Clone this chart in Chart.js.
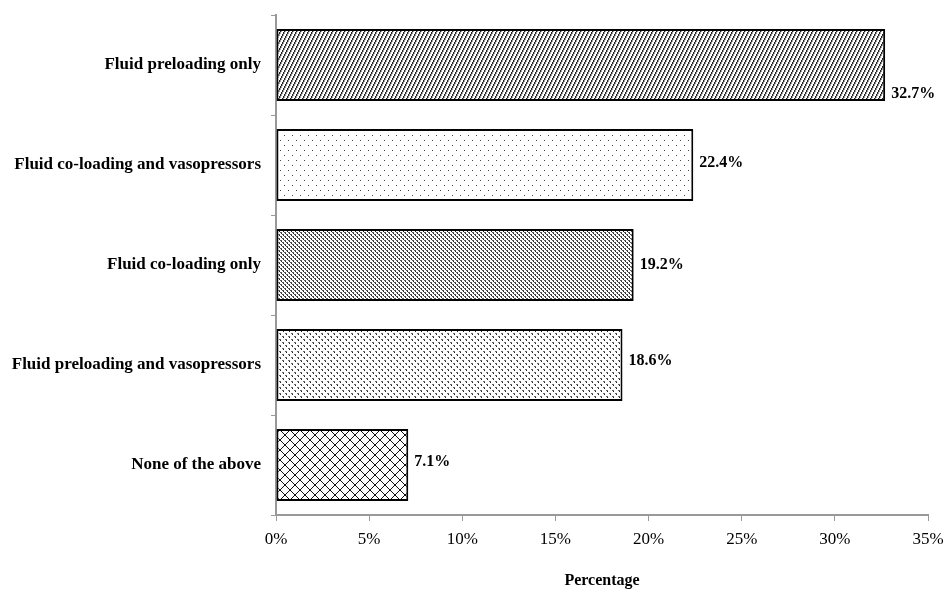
<!DOCTYPE html>
<html>
<head>
<meta charset="utf-8">
<script src="https://cdn.jsdelivr.net/npm/chart.js@4.4.0/dist/chart.umd.min.js"></script>
<style>
  html, body { margin: 0; padding: 0; background: #fff; }
  #wrap { width: 944px; height: 594px; }
</style>
</head>
<body>
<div id="wrap"><canvas id="chart" width="944" height="594"></canvas></div>
<script>
const categories = [
  'Fluid preloading only',
  'Fluid co-loading and vasopressors',
  'Fluid co-loading only',
  'Fluid preloading and vasopressors',
  'None of the above'
];
const percentages = [32.7, 22.4, 19.2, 18.6, 7.1];
const xTicks = [0, 5, 10, 15, 20, 25, 30, 35];

const serif = '"Liberation Serif", "Times New Roman", serif';

// small tiles used as bar fills
function makePattern(w, h, draw) {
  const c = document.createElement('canvas');
  c.width = w;
  c.height = h;
  const g = c.getContext('2d');
  g.fillStyle = '#fff';
  g.fillRect(0, 0, w, h);
  draw(g);
  return document.getElementById('chart').getContext('2d').createPattern(c, 'repeat');
}

const hatch = makePattern(4, 8, g => {
  for (let y = 0; y < 8; y++) {
    const x = Math.floor((7 - y) / 2);
    g.fillStyle = '#222';
    g.fillRect(x, y, 1, 1);
    g.fillStyle = '#999';
    g.fillRect((x + 1) % 4, y, 1, 1);
  }
});
const sparseDots = makePattern(8, 10, g => {
  g.fillStyle = '#444';
  g.fillRect(0, 0, 1, 1);
  g.fillRect(4, 5, 1, 1);
});
const denseDots = makePattern(4, 4, g => {
  g.fillStyle = '#555';
  g.fillRect(0, 0, 2, 1);
  g.fillRect(2, 2, 2, 1);
  g.fillStyle = '#222';
  g.fillRect(1, 1, 1, 1);
  g.fillRect(3, 3, 1, 1);
});
const mediumDots = makePattern(6, 6, g => {
  g.fillStyle = '#666';
  g.fillRect(0, 0, 2, 1);
  g.fillRect(3, 3, 2, 1);
  g.fillStyle = '#222';
  g.fillRect(1, 1, 1, 1);
  g.fillRect(4, 4, 1, 1);
});
const crossHatch = makePattern(10, 10, g => {
  g.strokeStyle = '#111';
  g.lineWidth = 1;
  g.beginPath();
  g.moveTo(0, 0); g.lineTo(10, 10);
  g.moveTo(10, 0); g.lineTo(0, 10);
  g.stroke();
});

const fills = [hatch, sparseDots, denseDots, mediumDots, crossHatch];

const barLabels = {
  id: 'barLabels',
  afterDatasetsDraw(chart, args, opts) {
    const ctx = chart.ctx;
    const meta = chart.getDatasetMeta(0);
    ctx.save();
    ctx.font = 'bold 16px ' + serif;
    ctx.fillStyle = '#000';
    ctx.textAlign = 'left';
    ctx.textBaseline = 'middle';
    meta.data.forEach((bar, i) => {
      const nudge = (opts.nudge && opts.nudge[i]) || 0;
      ctx.fillText(percentages[i].toFixed(1) + '%', bar.x + 6, bar.y + nudge);
    });
    ctx.restore();
  }
};

new Chart(document.getElementById('chart'), {
  type: 'bar',
  data: {
    labels: categories,
    datasets: [{
      data: percentages,
      backgroundColor: fills,
      borderColor: '#000',
      borderWidth: 2,
      borderSkipped: false,
      categoryPercentage: 0.72,
      barPercentage: 1.0
    }]
  },
  options: {
    indexAxis: 'y',
    responsive: false,
    animation: false,
    layout: { padding: { top: 15, right: 0, bottom: 4, left: 0 } },
    plugins: {
      legend: { display: false },
      tooltip: { enabled: false },
      barLabels: { nudge: [29, -2, 0, -4, -3] }
    },
    scales: {
      x: {
        min: 0,
        max: 35,
        afterBuildTicks(axis) {
          axis.ticks = xTicks.map(v => ({ value: v }));
        },
        afterFit(axis) {
          axis.height = 75;
          axis.paddingRight = 16;
        },
        grid: {
          drawOnChartArea: false,
          drawTicks: true,
          tickLength: 6,
          color: '#999'
        },
        border: { color: '#999', width: 2 },
        ticks: {
          color: '#000',
          padding: 8,
          font: { family: serif, size: 17 },
          callback: v => v + '%'
        },
        title: {
          display: true,
          text: 'Percentage',
          color: '#000',
          padding: { top: 20, bottom: 0 },
          font: { family: serif, size: 16, weight: 'bold' }
        }
      },
      y: {
        offset: true,
        afterFit(axis) {
          axis.width = 276;
          axis.paddingTop = 0;
          axis.paddingBottom = 0;
        },
        grid: {
          offset: true,
          drawOnChartArea: false,
          tickLength: 5,
          color: '#999'
        },
        border: { color: '#999', width: 2 },
        ticks: {
          color: '#000',
          padding: 10,
          font: { family: serif, size: 17, weight: 'bold' }
        }
      }
    }
  },
  plugins: [barLabels]
});
</script>
</body>
</html>
